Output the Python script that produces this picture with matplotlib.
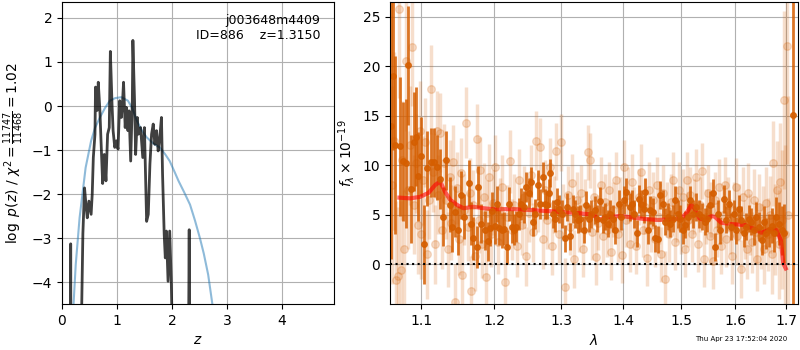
import numpy as np
import matplotlib
matplotlib.use('Agg')
import matplotlib.pyplot as plt
from matplotlib.ticker import ScalarFormatter, NullFormatter, NullLocator

# p(z) panel
z_pz = [0.10, 0.155, 0.158, 0.162, 0.20, 0.34, 0.38, 0.41, 0.44, 0.46, 0.49, 0.53, 0.55,
        0.57, 0.60, 0.61, 0.64, 0.66, 0.69, 0.71, 0.74, 0.77, 0.80, 0.83, 0.86, 0.88,
        0.91, 0.93, 0.96, 0.99, 1.02, 1.05, 1.08, 1.10, 1.12, 1.15, 1.17, 1.20, 1.22,
        1.25, 1.28, 1.29, 1.32, 1.34, 1.37, 1.39, 1.43, 1.47, 1.50, 1.54, 1.57, 1.60,
        1.63, 1.66, 1.69, 1.72, 1.75, 1.78, 1.81, 1.83, 1.86, 1.88, 1.90, 1.93, 1.96,
        1.99, 2.02, 2.10, 2.30, 2.315, 2.325, 2.34, 2.50]
logpz = [-6, -6, -3.13, -6, -6, -6, -2.9, -1.86, -2.3, -2.54, -2.16, -2.46, -2.0,
         -1.17, -0.64, 0.43, -0.1, 0.54, -0.11, -0.79, -1.76, -1.1, -1.7, -0.64, -0.49, 1.24,
         0.05, -0.56, -0.94, -0.79, -0.98, 0.12, -0.26, 0.05, 0.54, -0.49, -0.03, -0.56, -0.11,
         -1.25, 0.12, 1.49, 0.12, -1.1, -0.26, -0.64, -0.49, -1.17, -0.49, -2.62, -2.46, -1.32,
         -0.64, -0.41, -0.87, -0.56, -1.02, -0.71, -0.26, -1.55, -2.92, -3.45, -2.84, -3.98, -2.84,
         -4.06, -6, -6, -6, -2.81, -6, -6, -6]

z_chi = [0.15, 0.21, 0.25, 0.32, 0.43, 0.53, 0.60, 0.69, 0.78, 0.87, 0.97, 1.08, 1.20,
         1.28, 1.36, 1.45, 1.54, 1.66, 1.78, 1.88, 1.96, 2.05, 2.12, 2.22, 2.33, 2.42,
         2.51, 2.58, 2.66, 2.74, 2.80]
logchi = [-6.5, -4.5, -3.6, -2.54, -1.40, -0.79, -0.5, -0.26, -0.05, 0.12, 0.18, 0.2, 0.12,
          -0.05, -0.33, -0.55, -0.71, -0.85, -0.94, -1.1, -1.25, -1.5, -1.70, -1.95, -2.24, -2.6,
          -3.0, -3.35, -3.83, -4.53, -5.2]

# binned spectrum
wave_bin = [1.0615, 1.064, 1.066, 1.0724, 1.0767, 1.0806, 1.0831, 1.0866, 1.0905, 1.0939,
            1.0961, 1.1004, 1.104, 1.1083, 1.1132, 1.1173, 1.1213, 1.1253, 1.1294, 1.1334,
            1.1384, 1.1415, 1.1451, 1.1497, 1.1535, 1.158, 1.1645, 1.1677, 1.1706, 1.1753,
            1.177, 1.182, 1.1873, 1.1911, 1.1945, 1.1974, 1.2012,
            1.2041, 1.2074, 1.2113, 1.2150, 1.2185, 1.2218, 1.2258, 1.2282, 1.2317, 1.2355,
            1.2395, 1.2429, 1.2469, 1.2504, 1.2544, 1.2564, 1.2604, 1.2638, 1.2679, 1.2714,
            1.2744, 1.2781, 1.2816, 1.2831, 1.2866, 1.2897, 1.2934, 1.2970, 1.3012, 1.3052,
            1.3094, 1.3141, 1.3177, 1.3220, 1.3263, 1.3299, 1.3352, 1.3390, 1.3431, 1.3474,
            1.3528, 1.3566, 1.3620, 1.3657,
            1.3702, 1.3739, 1.3783, 1.3828, 1.3866, 1.3920, 1.3960, 1.4015, 1.4049, 1.4104,
            1.4145, 1.4184, 1.4229, 1.4256, 1.4297, 1.4341, 1.4371, 1.4410, 1.4456, 1.4503,
            1.4543, 1.4583, 1.4630, 1.4677, 1.4718, 1.4758, 1.4805, 1.4853, 1.4894, 1.4935,
            1.4983, 1.5031, 1.5073, 1.5114, 1.5162, 1.5211, 1.5271,
            1.5326, 1.5375, 1.5423, 1.5467, 1.5528, 1.5571, 1.5621, 1.5672, 1.5715, 1.5777,
            1.5822, 1.5871, 1.5922, 1.5966, 1.6012, 1.6062, 1.6108, 1.6158, 1.6205, 1.6256,
            1.6309, 1.6354, 1.6401, 1.6453, 1.6506, 1.6552, 1.6600, 1.6652, 1.6706, 1.6753,
            1.6801, 1.6854, 1.6908, 1.6955, 1.7130]
flux_bin = [14.0, 19.0, 12.0, 11.9, 10.4, 10.2, 20.1, 7.6, 12.4, 12.9,
            8.9, 10.9, 2.0, 9.7, 10.3, 10.3, 9.8, 8.6, 4.8, 10.5,
            6.0, 3.8, 5.3, 3.4, 7.0, 4.8, 8.2, 4.1, 2.6, 1.75,
            7.8, 4.1, 3.4, 2.3, 3.7, 5.4, 3.9,
            6.1, 3.7, 3.4, 3.6, 1.75, 6.1, 3.8, 3.5, 3.8, 5.1,
            6.1, 5.8, 7.8, 7.2, 8.3, 4.3, 5.1, 8.0, 6.1, 8.8,
            6.1, 6.0, 7.2, 9.2, 5.1, 4.6, 6.3, 5.6, 5.1, 2.6,
            5.8, 2.8, 5.6, 5.1, 4.5, 4.6, 3.5, 6.0, 4.6, 5.1,
            5.5, 4.6, 6.4, 4.5,
            4.8, 4.1, 5.1, 4.6, 3.4, 6.1, 4.8, 6.5, 7.3, 5.8,
            6.1, 5.1, 3.1, 6.6, 6.1, 5.6, 7.3, 3.4, 5.5, 5.3,
            2.6, 2.5, 7.0, 6.1, 4.3, 4.8, 4.1, 4.6, 6.5, 5.1,
            4.6, 3.4, 4.0, 4.8, 6.5, 5.1, 5.8,
            5.1, 4.8, 4.3, 4.6, 6.0, 7.2, 1.75, 5.1, 3.4, 6.6,
            4.5, 6.1, 3.8, 5.1, 3.4, 5.6, 4.5, 3.1, 3.8, 4.6,
            4.3, 3.4, 4.8, 3.8, 2.4, 4.3, 3.1, 3.4, 3.9, 3.1,
            4.8, 4.1, 3.4, 3.1, 15.1]
err_bin = [13.5, 7.5, 9.0, 7.0, 6.0, 6.5, 6.0, 5.5, 5.0, 5.0,
           4.5, 4.0, 4.0, 3.8, 3.5, 3.5, 3.3, 3.0, 3.0, 3.0,
           2.8, 2.6, 2.6, 2.5, 2.4, 2.3, 2.3, 2.2, 2.2, 2.1,
           2.1, 2.0, 2.0, 2.0, 1.9, 1.9, 1.9,
           1.8, 1.8, 1.8, 1.7, 1.7, 1.7, 1.7, 1.6, 1.6, 1.6,
           1.6, 1.6, 1.5, 1.5, 1.5, 1.5, 1.5, 1.5, 1.5, 1.5,
           1.5, 1.4, 1.4, 1.4, 1.4, 1.4, 1.4, 1.4, 1.4, 1.4,
           1.4, 1.4, 1.4, 1.4, 1.4, 1.4, 1.4, 1.4, 1.4, 1.4,
           1.4, 1.4, 1.4, 1.4,
           1.4, 1.4, 1.4, 1.4, 1.4, 1.4, 1.4, 1.4, 1.4, 1.4,
           1.4, 1.4, 1.4, 1.4, 1.4, 1.4, 1.4, 1.4, 1.4, 1.4,
           1.4, 1.4, 1.4, 1.4, 1.4, 1.4, 1.4, 1.4, 1.4, 1.4,
           1.4, 1.4, 1.4, 1.4, 1.4, 1.4, 1.4,
           1.4, 1.4, 1.4, 1.4, 1.4, 1.4, 1.4, 1.4, 1.4, 1.4,
           1.4, 1.4, 1.4, 1.4, 1.4, 1.4, 1.4, 1.4, 1.4, 1.4,
           1.4, 1.5, 1.5, 1.5, 1.5, 1.6, 1.6, 1.7, 1.8, 1.9,
           2.0, 2.2, 2.5, 3.0, 30.0]

# unbinned spectrum
wave_raw = [1.0625, 1.0655, 1.068, 1.0705, 1.072, 1.0735, 1.0755, 1.078, 1.0805, 1.083,
            1.0855, 1.088, 1.0905, 1.093, 1.0955, 1.098, 1.1005, 1.103, 1.1055, 1.108,
            1.1105, 1.113, 1.1155, 1.118, 1.1205, 1.123, 1.1255, 1.128, 1.1305, 1.133,
            1.1355, 1.138, 1.1405, 1.143, 1.1455, 1.148, 1.1505, 1.153, 1.1555, 1.158,
            1.1605, 1.163, 1.1655, 1.168, 1.1705, 1.173, 1.1755, 1.178, 1.1805, 1.183,
            1.1855, 1.188, 1.1905, 1.193, 1.1955, 1.198,
            1.2015, 1.205, 1.2085, 1.212, 1.2155, 1.219, 1.2225, 1.226, 1.2295, 1.233,
            1.2365, 1.24, 1.2435, 1.247, 1.2505, 1.254, 1.2575, 1.261, 1.2645, 1.268,
            1.2715, 1.275, 1.2785, 1.282, 1.2855, 1.289, 1.2925, 1.296, 1.2995,
            1.303, 1.3065, 1.31, 1.3135, 1.317, 1.3205, 1.324, 1.3275, 1.331, 1.3345,
            1.338, 1.3415, 1.345, 1.3485, 1.352, 1.3555, 1.359, 1.3625, 1.366, 1.3695,
            1.373, 1.3765, 1.38, 1.3835, 1.387, 1.3905, 1.394, 1.3975,
            1.401, 1.4045, 1.408, 1.4115, 1.415, 1.4185, 1.422, 1.4255, 1.429, 1.4325,
            1.436, 1.4395, 1.443, 1.4465, 1.45, 1.4535, 1.457, 1.4605, 1.464, 1.4675,
            1.471, 1.4745, 1.478, 1.4815, 1.485, 1.4885, 1.492, 1.4955, 1.499,
            1.5025, 1.506, 1.5095, 1.513, 1.5165, 1.52, 1.5235, 1.527, 1.5305, 1.534,
            1.5375, 1.541, 1.5445, 1.548, 1.5515, 1.555, 1.5585, 1.562, 1.5655, 1.569,
            1.5725, 1.576, 1.5795, 1.583, 1.5865, 1.59, 1.5935, 1.597,
            1.6005, 1.604, 1.6075, 1.611, 1.6145, 1.618, 1.6215, 1.625, 1.6285, 1.632,
            1.6355, 1.639, 1.6425, 1.646, 1.6495, 1.653, 1.6565, 1.66, 1.6635, 1.667,
            1.6705, 1.674, 1.6775, 1.681, 1.6845, 1.688, 1.6915, 1.6945, 1.698, 1.701, 1.704]
flux_raw = [8.0, 12.5, -1.6, -1.2, 25.8, -0.6, 10.5, 1.5, 20.5, 7.5,
            12.0, 22.0, 6.0, 10.2, 4.0, 13.5, 3.0, 8.5, 12.3, 1.0,
            6.5, 17.7, 9.3, 2.0, 13.5, 7.0, 13.3, 3.5, 10.2, 6.5,
            1.5, 8.8, 4.2, 10.3, -3.8, 7.7, 2.5, 9.2, -1.1, 5.5,
            14.3, 3.8, 7.2, -2.7, 6.0, 0.8, 12.7, 4.5, 9.5, 2.0,
            6.8, -1.3, 5.2, 8.8, 3.0, 6.2,
            9.8, 2.2, 5.5, 7.8, -1.8, 4.8, 10.4, 3.5, 6.0, 1.8,
            8.5, 4.0, 6.8, 0.8, 5.2, 9.0, 3.2, 12.5, 6.2, 11.8,
            2.5, 7.5, 4.5, 9.8, 1.8, 6.0, 11.4, 3.0, 12.3,
            5.2, -2.3, 7.0, 3.8, 8.2, 0.5, 6.5, 4.0, 7.2, 1.5,
            5.8, 11.3, 10.5, 3.2, 6.8, 0.7, 4.2, 8.0, 2.8, 6.3,
            3.5, 7.5, 1.2, 5.5, 8.5, 3.0, 6.0, 0.9,
            9.8, 4.5, 7.0, 2.0, 8.3, 5.0, 1.8, 6.8, 9.3, 3.5,
            5.8, 0.6, 7.5, 4.0, 6.5, 2.5, 8.0, 4.8, 1.0, 7.2,
            -1.5, 5.5, 3.0, 6.3, 8.5, 2.2, 5.0, 7.5, 3.8,
            6.8, 1.5, 8.5, 4.5, 7.0, 3.0, 5.8, 8.8, 2.0, 6.0,
            9.4, 0.5, 4.8, 7.2, 2.8, 5.5, 0.3, 6.5, 3.5, 7.8,
            1.8, 5.0, 8.0, 2.5, 6.0, 3.8, 0.8, 5.5,
            7.8, 2.8, 5.2, -0.5, 6.8, 3.5, 1.5, 7.2, 4.0, 2.2,
            6.5, 3.2, 0.5, 5.8, 2.8, 4.5, 1.5, 6.2, 3.0, 5.0,
            1.0, 10.2, 3.5, 7.5, 2.0, 8.3, 4.5, 16.6, 3.0, 22.1, 5.0]
err_raw = [10, 9, 8, 7, 9, 7, 6, 6, 7, 6,
           6, 6, 5, 5, 5, 5, 4.5, 4.5, 4.5, 4.5,
           4, 4.5, 4, 4, 4, 4, 4, 4, 4, 4,
           3.8, 3.8, 3.8, 3.8, 3.8, 3.6, 3.6, 3.6, 3.6, 3.6,
           3.6, 3.5, 3.5, 3.5, 3.5, 3.5, 3.5, 3.4, 3.4, 3.4,
           3.4, 3.4, 3.3, 3.3, 3.3, 3.3,
           3.3, 3.2, 3.2, 3.2, 3.2, 3.2, 3.2, 3.1, 3.1, 3.1,
           3.1, 3.1, 3.1, 3.0, 3.0, 3.0, 3.0, 3.0, 3.0, 3.0,
           3.0, 3.0, 3.0, 3.0, 2.9, 2.9, 2.9, 2.9, 2.9,
           2.9, 2.9, 2.9, 2.9, 2.9, 2.9, 2.8, 2.8, 2.8, 2.8,
           2.8, 2.8, 2.8, 2.8, 2.8, 2.8, 2.8, 2.8, 2.8, 2.8,
           2.8, 2.8, 2.8, 2.8, 2.8, 2.8, 2.8, 2.8,
           2.8, 2.8, 2.8, 2.8, 2.8, 2.8, 2.8, 2.8, 2.8, 2.8,
           2.8, 2.8, 2.8, 2.8, 2.8, 2.8, 2.8, 2.8, 2.8, 2.8,
           2.8, 2.8, 2.8, 2.8, 2.8, 2.8, 2.8, 2.8, 2.8,
           2.8, 2.8, 2.8, 2.8, 2.8, 2.8, 2.8, 2.8, 2.8, 2.8,
           2.8, 2.8, 2.8, 2.8, 2.8, 2.8, 2.8, 2.8, 2.8, 2.8,
           2.8, 2.8, 2.8, 2.8, 2.8, 2.8, 2.8, 2.8,
           2.9, 2.9, 2.9, 2.9, 3.0, 3.0, 3.0, 3.0, 3.1, 3.1,
           3.1, 3.2, 3.2, 3.3, 3.3, 3.4, 3.5, 3.6, 3.7, 3.9,
           4.0, 4.3, 4.6, 5.0, 5.5, 6.0, 7.0, 9.0, 9.0, 12, 12]

# model
wave_mod = [1.0719, 1.0857, 1.0987, 1.1097, 1.1186, 1.1253, 1.132, 1.1388, 1.148, 1.157,
            1.171, 1.185, 1.199, 1.228, 1.253, 1.278, 1.304, 1.330, 1.346, 1.354,
            1.360, 1.366, 1.374, 1.396, 1.413, 1.436, 1.459, 1.482, 1.500, 1.509,
            1.518, 1.524, 1.533, 1.542, 1.555, 1.561, 1.573, 1.592, 1.618, 1.634,
            1.650, 1.657, 1.667, 1.680, 1.689, 1.694, 1.699]
flux_mod = [6.72, 6.65, 6.8, 7.2, 8.0, 8.35, 7.3, 6.5, 6.0, 5.65,
            5.8, 5.65, 5.55, 5.57, 5.47, 5.37, 5.27, 5.14, 5.03, 4.8,
            4.46, 4.63, 4.8, 4.86, 4.73, 4.56, 4.46, 4.53, 4.63, 5.14,
            5.98, 5.64, 4.63, 4.46, 4.86, 4.8, 4.19, 4.05, 3.95, 3.61,
            3.18, 3.28, 3.51, 3.45, 2.43, 0.07, -0.44]

g141 = (0.8352941, 0.3686274, 0.0)

fig = plt.figure(figsize=(8, 3.5), dpi=100)
ax1 = fig.add_axes([0.0775, 0.131, 0.34, 0.863])
ax2 = fig.add_axes([0.4875, 0.131, 0.51, 0.863])

ax1.plot(z_chi, logchi, color='tab:blue', alpha=0.5, lw=1.5)
ax1.plot(z_pz, logpz, color='k', alpha=0.75, lw=2)
ax1.set_xlim(0, 4.95)
ax1.set_ylim(-4.5, 2.36)
ax1.set_xticks([0, 1, 2, 3, 4])
ax1.set_yticks([-4, -3, -2, -1, 0, 1, 2])
ax1.grid()
ax1.set_xlabel('$z$')
ax1.set_ylabel(r'$\log\ p(z)$' + ' / ' + r'$\chi^2=\frac{11747}{11468}=1.02$')
ax1.text(0.95, 0.96, 'j003648m4409\nID=886    z=1.3150', ha='right', va='top',
         transform=ax1.transAxes, fontsize=9)

ax2.errorbar(wave_raw, flux_raw, yerr=err_raw, color=g141, alpha=0.2, marker='o',
             linestyle='None', markersize=5.5, elinewidth=2.5)
ax2.errorbar(wave_bin, flux_bin, yerr=err_bin, color=g141, alpha=0.85, marker='o',
             linestyle='None', markersize=4, elinewidth=2)
ax2.plot(wave_mod, flux_mod, color='r', alpha=0.6, lw=3)
ax2.axhline(0, color='k', linestyle=':', lw=1.5)
ax2.set_xscale('log')
ax2.set_xlim(1.06, 1.724)
ax2.set_ylim(-4.05, 26.5)
ax2.set_xticks([1.1, 1.2, 1.3, 1.4, 1.5, 1.6, 1.7])
ax2.xaxis.set_major_formatter(ScalarFormatter())
ax2.xaxis.set_minor_locator(NullLocator())
ax2.xaxis.set_minor_formatter(NullFormatter())
ax2.set_yticks([0, 5, 10, 15, 20, 25])
ax2.grid()
ax2.set_xlabel(r'$\lambda$')
ax2.set_ylabel(r'$f_\lambda\times10^{-19}$')

fig.text(0.984, 0.031, 'Thu Apr 23 17:52:04 2020', ha='right', va='center', fontsize=5)

fig.savefig('out.png', dpi=100)
